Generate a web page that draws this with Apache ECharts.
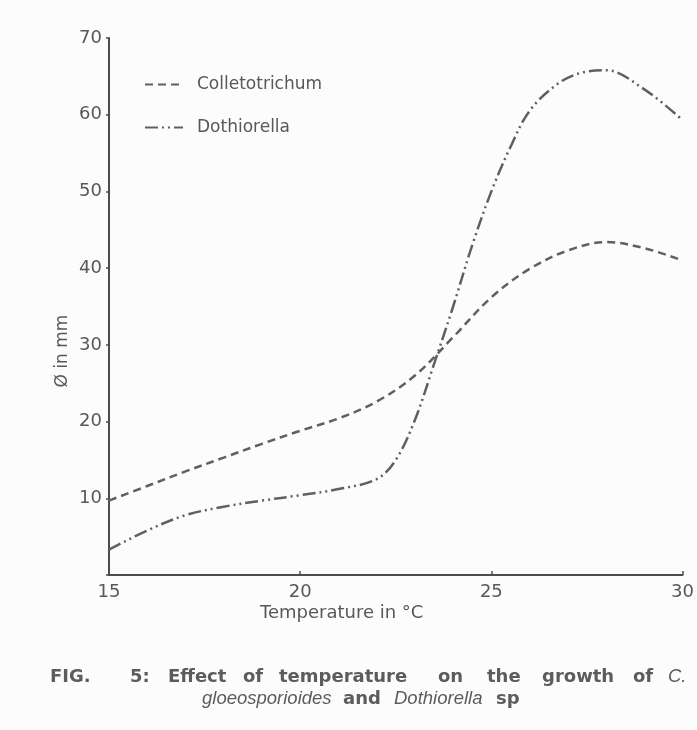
<!DOCTYPE html>
<html>
<head>
<meta charset="utf-8">
<script src="https://cdn.jsdelivr.net/npm/echarts@6/dist/echarts.min.js"></script>
<style>
html,body{margin:0;padding:0;background:#fdfcfc;}
#c{width:697px;height:730px;}
</style>
</head>
<body>
<div id="c"></div>
<script>
// ---- data ----
var xTicks = [15, 20, 25, 30];
var yTicks = [10, 20, 30, 40, 50, 60, 70];
var collX = [15, 16, 17, 18, 19, 20, 21, 22, 23, 24, 25, 26, 27, 28, 29, 30];
var collY = [9.7, 11.6, 13.5, 15.3, 17.1, 18.8, 20.4, 22.6, 26.0, 31.0, 36.2, 39.9, 42.3, 43.4, 42.6, 41.0];
var dothX = [15, 16, 17, 18, 19, 20, 21, 22, 22.5, 23, 23.5, 24, 24.5, 25, 25.5, 26, 26.7, 27.3, 28, 29, 30];
var dothY = [3.3, 5.8, 7.8, 8.9, 9.7, 10.4, 11.2, 12.5, 15.0, 20.2, 27.5, 35.0, 43.0, 50.0, 55.8, 60.5, 63.9, 65.4, 65.8, 63.3, 59.3];
var seriesNames = ['Colletotrichum', 'Dothiorella'];
var xName = 'Temperature in °C';
var yName = 'Ø in mm';
var capLine1 = [['FIG.', 'b'], ['5:', 'b'], ['Effect', 'b'], ['of', 'b'], ['temperature', 'b'], ['on', 'b'], ['the', 'b'], ['growth', 'b'], ['of', 'b'], ['C.', 'i']];
var capLine2 = [['gloeosporioides', 'i'], ['and', 'b'], ['Dothiorella', 'i'], ['sp', 'b']];

function pairs(xs, ys) { return xs.map(function (x, i) { return [x, ys[i]]; }); }

var ink = '#585858';
var capInk = '#5c5c5c';
var labFont = 'DejaVu Sans';
var capX1 = [50, 130, 168, 243, 279, 438, 487, 542, 633, 668];
var capX2 = [202, 343, 394, 496];

function capFont(kind) {
  return kind === 'b' ? 'bold 18px "DejaVu Sans"' : 'italic 18.5px "Liberation Sans"';
}

var graphics = [
  { type: 'text', x: 260, y: 613, style: { text: xName, fill: ink, font: '18px "' + labFont + '"', textVerticalAlign: 'middle' } },
  { type: 'text', x: 63, y: 351, rotation: Math.PI / 2, style: { text: yName, fill: ink, font: '17px "' + labFont + '"', textAlign: 'center', textVerticalAlign: 'middle' } }
];
capLine1.forEach(function (w, i) {
  graphics.push({ type: 'text', x: capX1[i], y: 677, style: { text: w[0], fill: capInk, font: capFont(w[1]), textVerticalAlign: 'middle' } });
});
capLine2.forEach(function (w, i) {
  graphics.push({ type: 'text', x: capX2[i], y: 699, style: { text: w[0], fill: capInk, font: capFont(w[1]), textVerticalAlign: 'middle' } });
});

var chart = echarts.init(document.getElementById('c'), null, { renderer: 'canvas' });
chart.setOption({
  backgroundColor: '#fdfcfc',
  animation: false,
  grid: { left: 109, right: 11, top: 38, bottom: 155 },
  legend: {
    orient: 'vertical', left: 139, top: 71, itemWidth: 38, itemHeight: 14, itemGap: 26,
    data: seriesNames,
    itemStyle: { color: 'rgba(0,0,0,0)', borderColor: 'rgba(0,0,0,0)', borderWidth: 0, opacity: 0 },
    textStyle: { color: ink, fontSize: 17, fontFamily: labFont, padding: [0, 0, 0, 9] }
  },
  xAxis: {
    type: 'value', min: 15, max: 30, interval: 5,
    axisLine: { lineStyle: { color: '#4c4c4c', width: 2 } },
    axisTick: { show: true, inside: true, length: 4, lineStyle: { color: '#4c4c4c', width: 1.5 } },
    axisLabel: { color: ink, fontSize: 18, fontFamily: labFont, margin: 8,
      formatter: function (v) { return xTicks.indexOf(v) >= 0 ? String(v) : ''; } },
    splitLine: { show: false }
  },
  yAxis: {
    type: 'value', min: 0, max: 70, interval: 10,
    axisLine: { show: true, lineStyle: { color: '#4c4c4c', width: 2 } },
    axisTick: { show: true, length: 3, lineStyle: { color: '#4c4c4c', width: 1.5 } },
    axisLabel: { color: ink, fontSize: 18, fontFamily: labFont, margin: 7,
      formatter: function (v) { return yTicks.indexOf(v) >= 0 ? String(v) : ''; } },
    splitLine: { show: false }
  },
  series: [
    {
      name: seriesNames[0], type: 'line', smooth: 0.35, symbol: 'none',
      data: pairs(collX, collY),
      itemStyle: { color: '#606060' },
      lineStyle: { color: '#606060', width: 2.5, type: [8, 5] }
    },
    {
      name: seriesNames[1], type: 'line', smooth: 0.35, symbol: 'none',
      data: pairs(dothX, dothY),
      itemStyle: { color: '#606060' },
      lineStyle: { color: '#606060', width: 2.5, type: [13, 4, 2, 4, 2, 4] }
    }
  ],
  graphic: graphics
});
</script>
</body>
</html>
